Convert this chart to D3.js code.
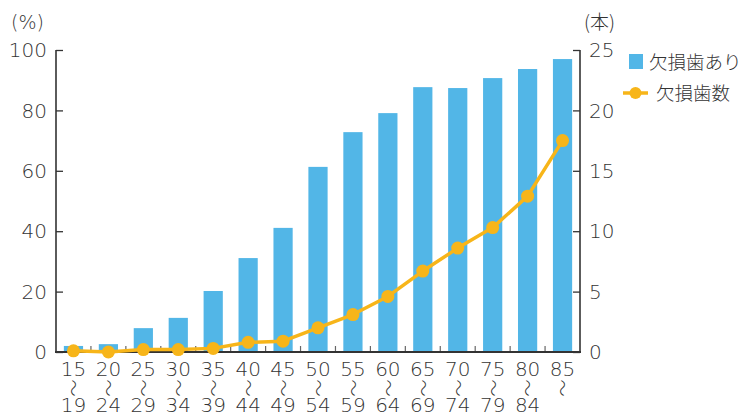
<!DOCTYPE html>
<html><head><meta charset="utf-8">
<script src="https://cdn.jsdelivr.net/npm/d3@7"></script>
<style>
body{margin:0;background:#fff;}
text{font-family:"DejaVu Sans","Noto Sans CJK JP",sans-serif;fill:#333;}
.cjk{font-family:"Noto Sans CJK JP",sans-serif;}
</style></head><body>
<svg id="c" width="744" height="415"></svg>
<script>
const ageFrom = ["15","20","25","30","35","40","45","50","55","60","65","70","75","80","85"];
const ageTo   = ["19","24","29","34","39","44","49","54","59","64","69","74","79","84",""];
const pctMissing = [2.0,2.6,7.9,11.3,20.2,31.1,41.1,61.3,72.8,79.1,87.7,87.4,90.7,93.7,97.0];
const numMissing = [0.1,0.0,0.2,0.2,0.3,0.8,0.9,2.0,3.1,4.6,6.7,8.6,10.3,12.9,17.5];
const leftTicks = [0,20,40,60,80,100];
const rightTicks = [0,5,10,15,20,25];
const barColor = "#52B6E7", lineColor = "#F7B519", axisColor = "#333";

const svg = d3.select("#c");
const L = 56, R = 580, T = 50, B = 352;
const x = d3.scaleBand().domain(ageFrom).range([L, R]).paddingInner(0.45).paddingOuter(0.225);
const xb = d3.scaleBand().domain(ageFrom).range([L, R]);
const yL = d3.scaleLinear().domain([0,100]).range([B, T]);
const yR = d3.scaleLinear().domain([0,25]).range([B, T]);

// band boundary ticks
svg.append("g").selectAll("line").data(ageFrom.slice(1)).join("line")
  .attr("x1", d => xb(d)).attr("x2", d => xb(d))
  .attr("y1", B).attr("y2", B-6).attr("stroke", "#666").attr("stroke-width", 1.2);

// bars
svg.append("g").selectAll("rect").data(pctMissing).join("rect")
  .attr("x", (d,i) => x(ageFrom[i])).attr("width", x.bandwidth())
  .attr("y", d => yL(d)).attr("height", d => B - yL(d)).attr("fill", barColor);

// left axis
const gl = svg.append("g").attr("transform", `translate(${L},0)`)
  .call(d3.axisRight(yL).tickValues(leftTicks).tickSize(7).tickFormat(""));
gl.select(".domain").remove();
gl.selectAll(".tick line").attr("stroke", axisColor).attr("stroke-width", 1.3);
svg.append("line").attr("x1", L).attr("x2", L).attr("y1", T).attr("y2", B).attr("stroke", axisColor).attr("stroke-width", 1.6);
svg.append("g").selectAll("text").data(leftTicks).join("text")
  .attr("x", 47).attr("y", d => yL(d)).attr("dy", "0.36em").attr("text-anchor", "end")
  .attr("font-size", 20).attr("font-weight", 200).text(d => d);

// right axis
const gr = svg.append("g").attr("transform", `translate(${R},0)`)
  .call(d3.axisLeft(yR).tickValues(rightTicks).tickSize(7).tickFormat(""));
gr.select(".domain").remove();
gr.selectAll(".tick line").attr("stroke", axisColor).attr("stroke-width", 1.3);
svg.append("line").attr("x1", R).attr("x2", R).attr("y1", T).attr("y2", B).attr("stroke", axisColor).attr("stroke-width", 1.6);
svg.append("g").selectAll("text").data(rightTicks).join("text")
  .attr("x", 589).attr("y", d => yR(d)).attr("dy", "0.36em").attr("text-anchor", "start")
  .attr("font-size", 20).attr("font-weight", 200).text(d => d);

// baseline
svg.append("line").attr("x1", L-1).attr("x2", R+1).attr("y1", B).attr("y2", B).attr("stroke", axisColor).attr("stroke-width", 2.2);

// unit labels
svg.append("text").attr("x", 11).attr("y", 22).attr("dy","0.36em").attr("font-size", 19).attr("font-weight", 200).text("(%)");
svg.append("text").attr("class","cjk").attr("x", 584).attr("y", 22).attr("dy","0.36em").attr("font-size", 19).attr("font-weight", 300).text("(本)");

// x labels
const xl = svg.append("g").selectAll("g").data(ageFrom).join("g")
  .attr("transform", d => `translate(${xb(d)+xb.bandwidth()/2},0)`);
xl.append("text").attr("y", 369).attr("dy","0.36em").attr("text-anchor","middle").attr("font-size",20).attr("font-weight",200).text(d => d);
xl.append("text").attr("class","cjk").attr("transform","translate(0,388) rotate(90)")
  .attr("dy","0.36em").attr("text-anchor","middle").attr("font-size",17).attr("font-weight",200).text("〜");
xl.append("text").attr("y", 404.5).attr("dy","0.36em").attr("text-anchor","middle").attr("font-size",20).attr("font-weight",200)
  .text((d,i) => ageTo[i]);

// line
const cx = (d,i) => xb(ageFrom[i]) + xb.bandwidth()/2;
svg.append("path").datum(numMissing)
  .attr("d", d3.line().x(cx).y(d => yR(d)))
  .attr("fill","none").attr("stroke", lineColor).attr("stroke-width", 3.5).attr("stroke-linejoin","round");
svg.append("g").selectAll("circle").data(numMissing).join("circle")
  .attr("cx", cx).attr("cy", d => yR(d)).attr("r", 6.5).attr("fill", lineColor);

// legend
svg.append("rect").attr("x", 629).attr("y", 54).attr("width", 14).attr("height", 15).attr("fill", barColor);
svg.append("text").attr("class","cjk").attr("x", 649).attr("y", 62).attr("dy","0.36em").attr("font-size", 18.5).attr("font-weight", 300).text("欠損歯あり");
svg.append("line").attr("x1", 623).attr("x2", 648).attr("y1", 93).attr("y2", 93).attr("stroke", lineColor).attr("stroke-width", 3.5);
svg.append("circle").attr("cx", 635.5).attr("cy", 93).attr("r", 6).attr("fill", lineColor);
svg.append("text").attr("class","cjk").attr("x", 656).attr("y", 93).attr("dy","0.36em").attr("font-size", 18.5).attr("font-weight", 300).text("欠損歯数");
</script></body></html>
